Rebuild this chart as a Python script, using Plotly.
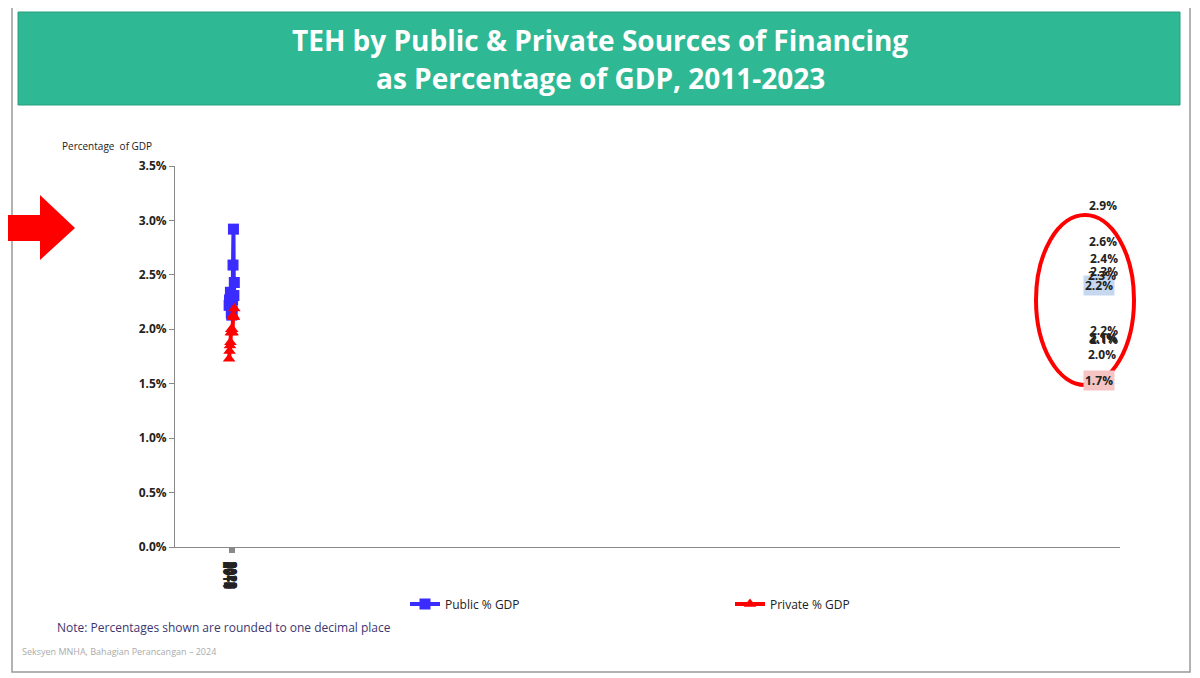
import plotly.graph_objects as go

years = [str(y) for y in range(2011, 2024)]
public = [2.22, 2.27, 2.25, 2.34, 2.30, 2.15, 2.13, 2.17, 2.27, 2.59, 2.92, 2.31, 2.43]
private = [1.73, 1.80, 1.85, 1.88, 1.97, 2.00, 1.97, 2.00, 1.97, 2.13, 2.12, 2.11, 2.19]
labelled_years = ["2011", "2019", "2020", "2021", "2022", "2023"]

W, H = 1200, 678
OFF = 8
L, R, T, B = 175, 1120, 166, 547
def px(x): return (x - L) / (R - L)
def py(y): return (B - y) / (B - T)

FONT = "Open Sans"
fig = go.Figure()
fig.add_trace(go.Scatter(x=years, y=public, name="Public % GDP", mode="lines+markers",
                         line=dict(color="#3a2bff", width=4), marker=dict(symbol="square", size=11, color="#3a2bff")))
fig.add_trace(go.Scatter(x=years, y=private, name="Private % GDP", mode="lines+markers",
                         line=dict(color="#ff0000", width=4), marker=dict(symbol="triangle-up", size=11, color="#ff0000")))

ann = []
for i, yr in enumerate(years):
    if yr in labelled_years:
        first = yr == "2011"
        ann.append(dict(x=yr, y=public[i], text=f"<b>{public[i]:.1f}%</b>", showarrow=False, yshift=24 if not first else 20,
                        font=dict(family=FONT, size=12, color="#222"), bgcolor="#c5d8f0" if first else None))
        ann.append(dict(x=yr, y=private[i], text=f"<b>{private[i]:.1f}%</b>", showarrow=False, yshift=-22,
                        font=dict(family=FONT, size=12, color="#222"), bgcolor="#f7c4c4" if first else None))

ann += [
    dict(xref="paper", yref="paper", x=px(600), y=py(40), yanchor="middle", text="<b>TEH by Public & Private Sources of Financing</b>",
         showarrow=False, font=dict(family=FONT, size=28, color="white")),
    dict(xref="paper", yref="paper", x=px(600), y=py(78), yanchor="middle", text="<b>as Percentage of GDP, 2011-2023</b>",
         showarrow=False, font=dict(family=FONT, size=28, color="white")),
    dict(xref="paper", yref="paper", x=px(60), y=py(137), xanchor="left", text="Percentage  of GDP", showarrow=False,
         font=dict(family=FONT, size=10, color="#222")),
    dict(xref="paper", yref="paper", x=px(55), y=py(638), xanchor="left", text="Note: Percentages shown are rounded to one decimal place",
         showarrow=False, font=dict(family=FONT, size=12, color="#3b3670")),
    dict(xref="paper", yref="paper", x=px(20), y=py(660), xanchor="left", text="Seksyen MNHA, Bahagian Perancangan – 2024",
         showarrow=False, font=dict(family=FONT, size=9, color="#aaa")),
]

shapes = [
    dict(type="rect", xref="paper", yref="paper", x0=px(12), x1=px(1190), y0=py(5), y1=py(672),
         line=dict(color="#999", width=1.5), fillcolor="rgba(0,0,0,0)", layer="below"),
    dict(type="rect", xref="paper", yref="paper", x0=px(18), x1=px(1180), y0=py(12), y1=py(105),
         line=dict(color="#2a9e80", width=1), fillcolor="#2fb894", layer="below"),
    dict(type="path", xref="paper", yref="paper",
         path=f"M {px(5)},{py(215)} L {px(40)},{py(215)} L {px(40)},{py(195)} L {px(75)},{py(228)} L {px(40)},{py(260)} L {px(40)},{py(241)} L {px(5)},{py(241)} Z",
         fillcolor="#ff0000", line=dict(width=0)),
    dict(type="circle", xref="paper", yref="paper", x0=px(1036), x1=px(1134), y0=py(385), y1=py(215),
         line=dict(color="#ff0000", width=4)),
]

fig.update_layout(
    width=W, height=H, margin=dict(l=L - OFF, r=W - R + OFF, t=T - OFF, b=H - B + OFF),
    paper_bgcolor="white", plot_bgcolor="white", showlegend=True,
    legend=dict(orientation="h", x=px(405), y=py(604), xanchor="left", yanchor="middle",
                entrywidth=280, font=dict(family=FONT, size=12, color="#222")),
    xaxis=dict(type="category", showline=True, linecolor="#888", ticks="outside", tickcolor="#888",
               tickfont=dict(family=FONT, size=12, color="#222"), showgrid=False,
               tickvals=years, ticktext=[f"<b>{y}</b>" for y in years]),
    yaxis=dict(range=[0, 3.5], showline=True, linecolor="#888",
               ticks="outside", tickcolor="#888", showgrid=False,
               tickfont=dict(family=FONT, size=12, color="#222"),
               tickvals=[0, 0.5, 1, 1.5, 2, 2.5, 3, 3.5],
               ticktext=[f"<b>{v:.1f}%</b>" for v in [0, 0.5, 1, 1.5, 2, 2.5, 3, 3.5]]),
    annotations=ann, shapes=shapes,
)
fig.write_html("out.html")
